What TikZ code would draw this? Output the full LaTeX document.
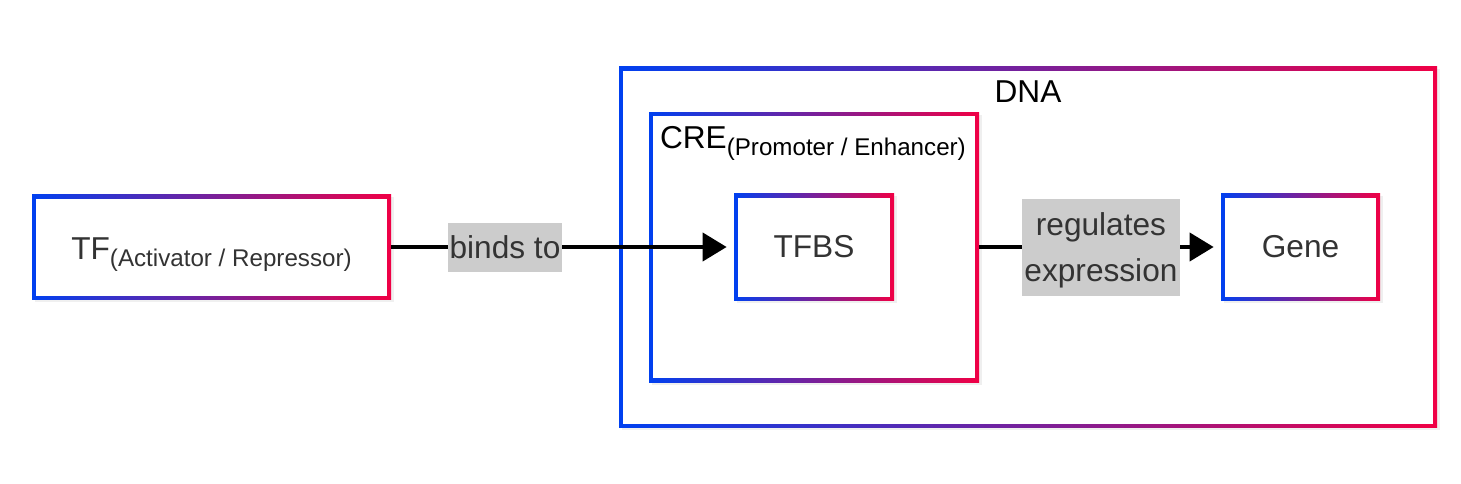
\documentclass[tikz,border=0pt]{standalone}
\usepackage{fontspec}
\setmainfont{Liberation Sans}
\usepackage{tikz}
\usetikzlibrary{arrows.meta,positioning,shadows}
\definecolor{gblue}{HTML}{0040F0}
\definecolor{gred}{HTML}{F00045}
\definecolor{ink}{HTML}{333333}
\definecolor{tag}{HTML}{CCCCCC}
\newcommand\subtxt[1]{\raisebox{-4pt}{\fontsize{13.75}{16}\selectfont #1}}
\tikzset{
  gbox/.style={left color=gblue,right color=gred,inner sep=0pt,
    drop shadow={opacity=0.12,shadow xshift=0.05cm,shadow yshift=-0.05cm},
    path picture={\fill[white] ([shift={(0.08cm,-0.08cm)}]path picture bounding box.north west)
      rectangle ([shift={(-0.08cm,0.08cm)}]path picture bounding box.south east);}},
  tagbox/.style={fill=tag,text=ink,inner sep=0pt,align=center,font=\fontsize{18}{26.5}\selectfont},
  link/.style={line width=0.08cm,-{Triangle[length=0.48cm,width=0.56cm]},shorten >=0.14cm}
}

\begin{document}
\begin{tikzpicture}[font=\fontsize{18}{22}\selectfont]
\useasboundingbox (0,0) rectangle (29.22,9.66);
% nested boxes
\node[gbox,minimum width=16.36cm,minimum height=7.22cm] (dna) at (20.56,4.72) {};
\node[gbox,minimum width=6.6cm,minimum height=5.4cm] (cre) at (16.28,4.72) {};
\node[gbox,minimum width=3.2cm,minimum height=2.14cm,text=ink] (tfbs) at (16.28,4.72) {TFBS};
\node[gbox,minimum width=7.18cm,minimum height=2.1cm,text=ink,text height=14.2pt,text depth=0pt] (tf) at (4.23,4.72) {TF\subtxt{(Activator / Repressor)}};
\node[gbox,minimum width=3.18cm,minimum height=2.14cm,text=ink] (gene) at (26.01,4.72) {Gene};
\node[anchor=base,inner sep=0pt] (dnalbl) at ([yshift=-0.73cm]dna.north) {DNA};
\node[anchor=base west,inner sep=0pt] (crelbl) at ([xshift=0.22cm,yshift=-0.74cm]cre.north west) {CRE\subtxt{(Promoter / Enhancer)}};
% links
\draw[link] (tf) -- node[tagbox,pos=0.332,minimum width=2.28cm,minimum height=0.98cm] (binds) {binds to} (tfbs);
\draw[link] (cre) -- node[tagbox,pos=0.504,minimum width=3.16cm,minimum height=1.94cm,text depth=0pt] (regs) {regulates\\expression} (gene);
\end{tikzpicture}
\end{document}
